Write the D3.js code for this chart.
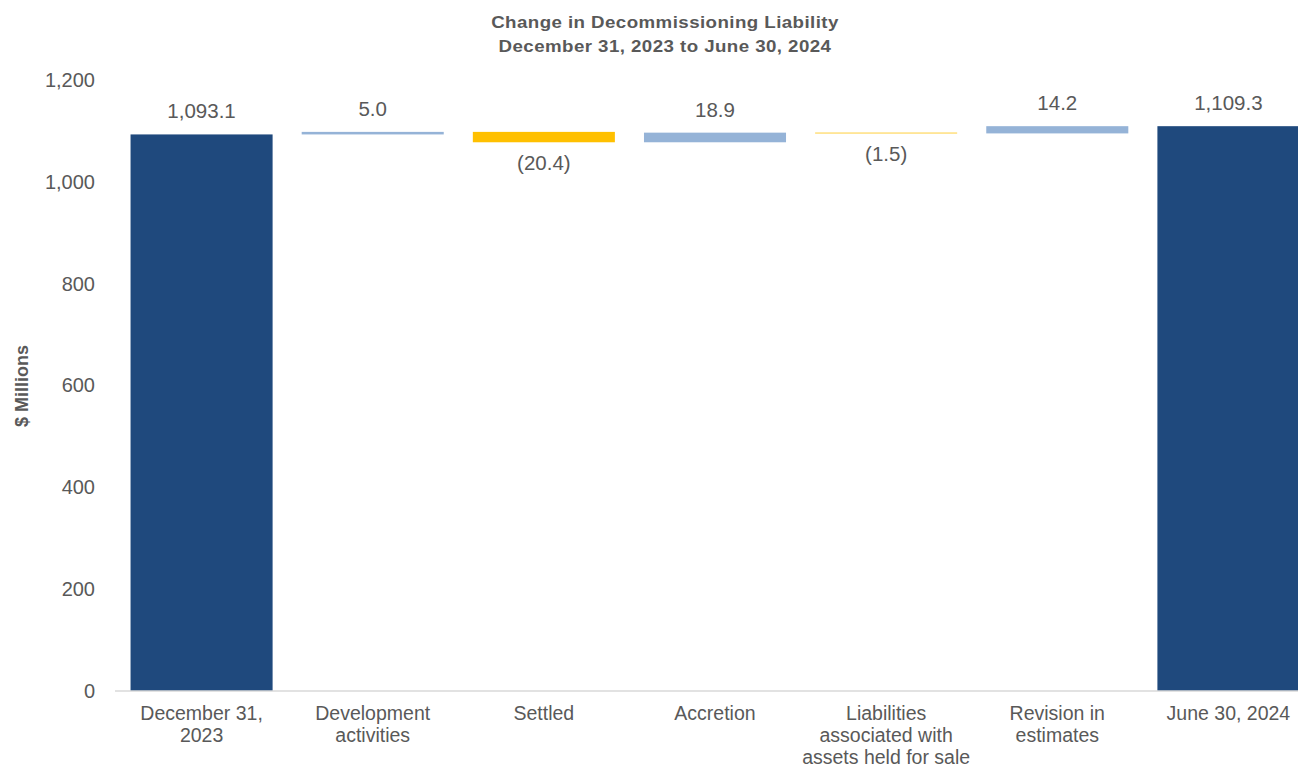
<!DOCTYPE html>
<html>
<head>
<meta charset="utf-8">
<script src="https://cdn.jsdelivr.net/npm/d3@7"></script>
<style>
  body { margin: 0; background: #fff; }
  svg { display: block; font-family: "Liberation Sans", Arial, sans-serif; }
</style>
</head>
<body>
<div class="diagram"></div>
<script>
var width = 1298, height = 768;

// data
var categories = [
  ["December 31,", "2023"],
  ["Development", "activities"],
  ["Settled"],
  ["Accretion"],
  ["Liabilities", "associated with", "assets held for sale"],
  ["Revision in", "estimates"],
  ["June 30, 2024"]
];
var values = [1093.1, 5.0, -20.4, 18.9, -1.5, 14.2, 1109.3];
var kinds = ["total", "delta", "delta", "delta", "delta", "delta", "total"];
var yTicks = [0, 200, 400, 600, 800, 1000, 1200];

var colors = {total: "#1F497D", up: "#95B3D7", down: "#FFC000"};
var textColor = "#595959";

// running waterfall
var running = 0;
var bars = values.map(function (v, i) {
  var lo, hi;
  if (kinds[i] === "total") {
    lo = 0; hi = v; running = v;
  } else {
    lo = Math.min(running, running + v);
    hi = Math.max(running, running + v);
    running += v;
  }
  return {i: i, v: v, kind: kinds[i], lo: lo, hi: hi};
});

var svg = d3.select('.diagram')
  .append('svg')
  .attr('width', width)
  .attr('height', height);

var x = d3.scaleBand()
  .domain(d3.range(categories.length))
  .range([116, 1314])
  .paddingInner(0.17)
  .paddingOuter(0.085);

var y = d3.scaleLinear().domain([0, 1200]).range([691, 80]);

// title
var title = svg.append('text')
  .attr('text-anchor', 'middle')
  .attr('fill', textColor)
  .attr('font-weight', 'bold')
  .attr('font-size', '17px')
  .attr('letter-spacing', '0.4px')
  .attr('transform', 'translate(665,0) scale(1.1,1)');
title.append('tspan').attr('x', 0).attr('y', 28).text('Change in Decommissioning Liability');
title.append('tspan').attr('x', 0).attr('y', 52).text('December 31, 2023 to June 30, 2024');

// y axis (labels only)
var yAxis = svg.append('g')
  .attr('class', 'axis axis--y')
  .attr('transform', 'translate(95,0)')
  .call(d3.axisLeft(y).tickValues(yTicks).tickSize(0).tickPadding(0).tickFormat(d3.format(',')));
yAxis.select('.domain').remove();
yAxis.selectAll('text')
  .attr('fill', textColor)
  .attr('font-size', '20px')
  .attr('font-family', '"Liberation Sans", Arial, sans-serif');

svg.append('text')
  .attr('transform', 'translate(28,386) rotate(-90)')
  .attr('text-anchor', 'middle')
  .attr('fill', textColor)
  .attr('font-weight', 'bold')
  .attr('font-size', '18px')
  .text('$ Millions');

// bars
svg.selectAll('.bar')
  .data(bars)
  .enter()
  .append('rect')
  .attr('class', 'bar')
  .attr('x', function (d) { return x(d.i); })
  .attr('width', x.bandwidth())
  .attr('y', function (d) { return y(d.hi); })
  .attr('height', function (d) { return y(d.lo) - y(d.hi); })
  .attr('fill', function (d) {
    if (d.kind === 'total') return colors.total;
    return d.v >= 0 ? colors.up : colors.down;
  });

// x axis line
svg.append('line')
  .attr('x1', 115).attr('x2', 1314)
  .attr('y1', y(0)).attr('y2', y(0))
  .attr('stroke', '#D9D9D9')
  .attr('stroke-width', 1.5);

// value labels
var fmt = d3.format(',.1f');
svg.selectAll('.value')
  .data(bars)
  .enter()
  .append('text')
  .attr('class', 'value')
  .attr('x', function (d) { return x(d.i) + x.bandwidth() / 2; })
  .attr('y', function (d) { return d.v >= 0 ? y(d.hi) - 16 : y(d.lo) + 28; })
  .attr('text-anchor', 'middle')
  .attr('fill', textColor)
  .attr('font-size', '20.5px')
  .text(function (d) { return d.v >= 0 ? fmt(d.v) : '(' + fmt(-d.v) + ')'; });

// category labels
var cat = svg.selectAll('.cat')
  .data(categories)
  .enter()
  .append('text')
  .attr('class', 'cat')
  .attr('text-anchor', 'middle')
  .attr('fill', textColor)
  .attr('font-size', '19.5px');
cat.each(function (lines, i) {
  var cx = x(i) + x.bandwidth() / 2;
  d3.select(this).selectAll('tspan')
    .data(lines)
    .enter()
    .append('tspan')
    .attr('x', cx)
    .attr('y', function (d, j) { return 720 + j * 22; })
    .text(function (d) { return d; });
});
</script>
</body>
</html>
